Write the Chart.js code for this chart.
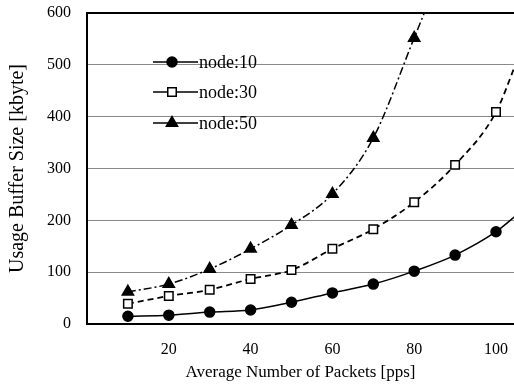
<!DOCTYPE html>
<html>
<head>
<meta charset="utf-8">
<script src="https://cdn.jsdelivr.net/npm/chart.js@4/dist/chart.umd.min.js"></script>
<style>
  body { margin: 0; background: #fff; }
  #wrap { width: 514px; height: 387px; }
</style>
</head>
<body>
<div id="wrap"><canvas id="mychart" width="514" height="387"></canvas></div>
<script>
// packets per second on the x axis
const packets = [10, 20, 30, 40, 50, 60, 70, 80, 90, 100];
const node10 = [15, 17, 23, 27, 42, 60, 77, 102, 133, 178];
const node30 = [39, 54, 66, 87, 104, 145, 183, 235, 307, 409];
const node50 = [62, 77, 106, 145, 191, 251, 359, 552];
// where each fitted curve leaves the plot
const node10End = [105, 210];
const node30End = [105, 505];
const node50End = [84.5, 640];
const xTicks = [20, 40, 60, 80, 100];
const serif = "'Liberation Serif', 'DejaVu Serif', serif";

function series(vals, end) {
  const pts = vals.map((v, i) => ({ x: packets[i], y: v }));
  pts.push({ x: end[0], y: end[1] });
  return pts;
}
function radii(vals, r) {
  return vals.map(() => r).concat([0]);
}

const legendInside = {
  id: "legendInside",
  afterDatasetsDraw(chart) {
    const ctx = chart.ctx;
    const rows = [62, 92, 123];
    ctx.save();
    chart.data.datasets.forEach((ds, i) => {
      const y = rows[i];
      ctx.strokeStyle = "#000";
      ctx.lineWidth = 1.5;
      ctx.setLineDash([]);
      ctx.beginPath();
      ctx.moveTo(153, y);
      ctx.lineTo(198, y);
      ctx.stroke();
      ctx.fillStyle = ds.pointBackgroundColor;
      Chart.helpers.drawPoint(ctx, {
        pointStyle: ds.pointStyle,
        radius: ds.legendRadius,
        borderWidth: 1.5,
        rotation: 0,
      }, 172, y);
      ctx.fillStyle = "#000";
      ctx.font = "18px " + serif;
      ctx.textBaseline = "middle";
      ctx.textAlign = "left";
      ctx.fillText(ds.label, 199, y + 1);
    });
    ctx.restore();
  },
};

new Chart(document.getElementById("mychart").getContext("2d"), {
  type: "line",
  data: {
    datasets: [
      {
        label: "node:10",
        data: series(node10, node10End),
        borderColor: "#000",
        borderWidth: 1.5,
        pointStyle: "circle",
        pointRadius: radii(node10, 5),
        legendRadius: 5,
        pointBackgroundColor: "#000",
        pointBorderColor: "#000",
        cubicInterpolationMode: "monotone",
      },
      {
        label: "node:30",
        data: series(node30, node30End),
        borderColor: "#000",
        borderWidth: 1.8,
        borderDash: [6, 4],
        pointStyle: "rect",
        pointRadius: radii(node30, 6),
        legendRadius: 6,
        pointBackgroundColor: "#fff",
        pointBorderColor: "#000",
        pointBorderWidth: 1.5,
        cubicInterpolationMode: "monotone",
      },
      {
        label: "node:50",
        data: series(node50, node50End),
        borderColor: "#000",
        borderWidth: 1.5,
        borderDash: [8, 3, 2, 3],
        pointStyle: "triangle",
        pointRadius: radii(node50, 6.5),
        legendRadius: 6.5,
        pointBackgroundColor: "#000",
        pointBorderColor: "#000",
        cubicInterpolationMode: "monotone",
      },
    ],
  },
  options: {
    responsive: false,
    animation: false,
    events: [],
    layout: { autoPadding: false, padding: { top: 13, right: 0, left: 0, bottom: 0 } },
    plugins: {
      legend: { display: false },
      tooltip: { enabled: false },
    },
    scales: {
      x: {
        type: "linear",
        min: 0,
        max: 104.4,
        afterBuildTicks: (s) => { s.ticks = xTicks.map((v) => ({ value: v })); },
        afterFit: (s) => { s.height = 63; s.paddingRight = 0; s.paddingLeft = 0; },
        grid: { display: false },
        border: { color: "#000", width: 2 },
        ticks: { color: "#000", font: { family: serif, size: 16 }, padding: 8 },
        title: {
          display: true,
          text: "Average Number of Packets [pps]",
          color: "#000",
          font: { family: serif, size: 17 },
          padding: { top: 5 },
        },
      },
      y: {
        min: 0,
        max: 600,
        afterFit: (s) => { s.width = 87; s.paddingTop = 0; s.paddingBottom = 0; },
        grid: {
          color: (c) => (c.tick && c.tick.value === 600 ? "#000" : "#8a8a8a"),
          lineWidth: (c) => (c.tick && c.tick.value === 600 ? 2 : 1),
          drawTicks: false,
        },
        border: { color: "#000", width: 2 },
        ticks: { stepSize: 100, color: "#000", font: { family: serif, size: 16 }, padding: 16 },
        title: {
          display: true,
          text: "Usage Buffer Size [kbyte]",
          color: "#000",
          font: { family: serif, size: 20 },
          padding: { top: 6, bottom: 0 },
        },
      },
    },
  },
  plugins: [legendInside],
});
</script>
</body>
</html>
